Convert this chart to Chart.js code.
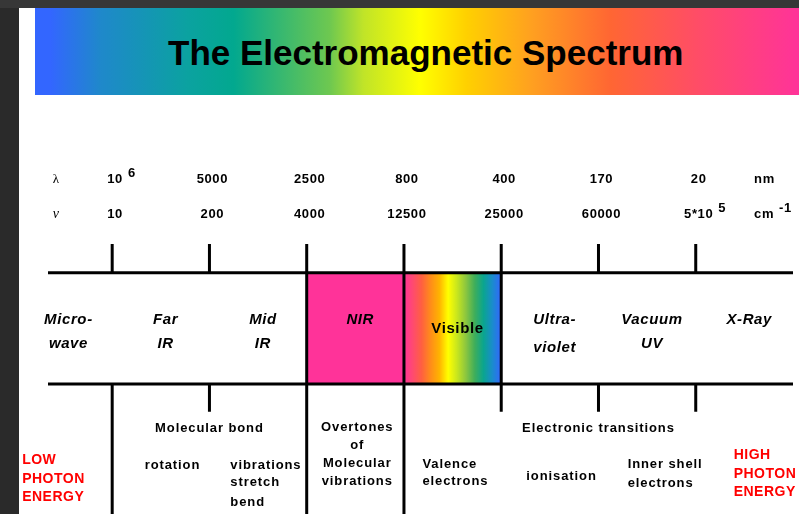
<!DOCTYPE html>
<html>
<head>
<meta charset="utf-8">
<script src="https://cdn.jsdelivr.net/npm/chart.js@4.4.0/dist/chart.umd.min.js"></script>
<style>
  html, body { margin: 0; padding: 0; }
  body { width: 799px; height: 514px; background: #2a2a2a; position: relative; overflow: hidden; }
  #topbar { position: absolute; left: 0; top: 0; width: 799px; height: 8px; background: #373737; }
  #sheet { position: absolute; left: 19px; top: 8px; width: 780px; height: 506px; background: #fff; }
  #sheet canvas { position: absolute; left: 0; top: 0; }
  #banner {
    position: absolute; left: 16px; top: 0; width: 764px; height: 87px;
    background: linear-gradient(to right, #3366ff 0%, #3366ff 2%, #1f88cb 8.5%, #0ba2a0 20%, #02a88f 26%,
      #6ec850 38.6%, #c0e428 43%, #ffff00 50.4%, #ffd000 56.5%, #ffa020 65%, #ff6633 75.3%,
      #ff4c68 87%, #ff3399 100%);
  }
  #banner h1 {
    position: absolute; left: 133px; top: 25px; margin: 0;
    font: bold 35px "Liberation Sans", Arial, sans-serif; line-height: 40px;
    color: #000; white-space: nowrap;
  }
</style>
</head>
<body>
<div id="topbar"></div>
<div id="sheet">
  <canvas id="spectrum" width="780" height="506"></canvas>
  <div id="banner"><h1>The Electromagnetic Spectrum</h1></div>
</div>
<script>
// --- Données du diagramme ---
const boundaries = [1, 2, 3, 4, 5, 6, 7];
const wavelengthLabels = ['10^6', '5000', '2500', '800', '400', '170', '20'];
const wavenumberLabels = ['10', '200', '4000', '12500', '25000', '60000', '5*10^5'];
const unitLabels = ['nm', 'cm^-1'];
const symbolLabels = ['λ', 'ν'];
const regionNames = [['Micro-', 'wave'], ['Far', 'IR'], ['Mid', 'IR'], ['NIR'], ['Visible'], ['Ultra-', 'violet'], ['Vacuum', 'UV'], ['X-Ray']];
const regionStart = [0, 1, 2, 3, 4, 5, 6, 7];
const highlightedRegions = ['NIR', 'Visible'];
const processSplits = [1, 3, 4];
const groupNames = ['Molecular bond', 'Electronic transitions'];
const groupTicks = [2, 6];
const processNames = [['rotation'], ['vibrations', 'stretch', 'bend'], ['Overtones', 'of', 'Molecular', 'vibrations'], ['Valence', 'electrons'], ['ionisation'], ['Inner shell', 'electrons']];
const energyNames = [['LOW', 'PHOTON', 'ENERGY'], ['HIGH', 'PHOTON', 'ENERGY']];

// --- Mise en page (unités des échelles) ---
const X_MIN = 0.34, X_MAX = 8, Y_MIN = -1.17, Y_MAX = 2.6;
const BAND_TOP = 1, BAND_BOTTOM = 0, TICK_UP = 1.26, TICK_DOWN = -0.25;
const ROW_LAMBDA = 1.856, ROW_NU = 1.541, LABEL_SHIFT = 0.03, SYMBOL_X = 0.42, UNIT_X = 7.6;
const TEXT_DY = 2; // décalage vertical du texte (px)
const regionLabelDx = 0.55;
const regionLabelY = [[0.595, 0.378], [0.595, 0.378], [0.595, 0.378], [0.595], [0.514], [0.595, 0.342], [0.595, 0.378], [0.595]];
const GROUP_Y = -0.385;
const processX = [1.62, 2.215, 3.52, 4.19, 5.62, 6.30];
const processAlign = ['center', 'left', 'center', 'left', 'center', 'left'];
const processY = [[-0.712], [-0.712, -0.866, -1.05], [-0.375, -0.532, -0.694, -0.858], [-0.709, -0.858], [-0.813], [-0.709, -0.88]];
const energyX = [0.074, 7.39];
const energyY = [[-0.669, -0.835, -1.0], [-0.625, -0.79, -0.955]];

const FONT = '"Liberation Sans", Arial, sans-serif';
const visibleStops = ['#ff3399', '#ff4a70', '#ff6040', '#ff8c1a', '#ffb300', '#ffff00', '#c8e61e', '#8cc63f', '#3fae5a', '#0aa58f', '#1a8ccc', '#3366ff'];

// segments verticaux : [x, y0, y1]
const segments = [];
boundaries.forEach(b => segments.push([b, BAND_TOP, TICK_UP]));
const boxEdges = [];
highlightedRegions.forEach(name => {
    const i = regionNames.findIndex(r => r.join('') === name);
    [regionStart[i], regionStart[i] + 1].forEach(e => { if (!boxEdges.includes(e)) boxEdges.push(e); });
});
boxEdges.forEach(b => segments.push([b, BAND_BOTTOM, BAND_TOP]));
processSplits.forEach(b => segments.push([b, Y_MIN, BAND_BOTTOM]));
boundaries.filter(b => !processSplits.includes(b)).forEach(b => segments.push([b, TICK_DOWN, BAND_BOTTOM]));

const segmentData = [];
segments.forEach(([x, y0, y1]) => {
    segmentData.push({ x: x, y: y0 }, { x: x, y: y1 }, { x: x, y: null });
});

function regionFill(name, color) {
    const i = regionNames.findIndex(r => r.join('') === name);
    return {
        data: [{ x: regionStart[i], y: BAND_TOP }, { x: regionStart[i] + 1, y: BAND_TOP }],
        fill: { value: BAND_BOTTOM },
        backgroundColor: color,
        borderColor: 'transparent',
        borderWidth: 0,
        order: 5
    };
}

function visibleGradient(context) {
    const chart = context.chart;
    if (!chart.chartArea) return '#ffff00';
    const i = regionNames.findIndex(r => r.join('') === 'Visible');
    const x0 = chart.scales.x.getPixelForValue(regionStart[i]);
    const x1 = chart.scales.x.getPixelForValue(regionStart[i] + 1);
    const g = chart.ctx.createLinearGradient(x0, 0, x1, 0);
    visibleStops.forEach((c, k) => g.addColorStop(k / (visibleStops.length - 1), c));
    return g;
}

function setFont(ctx, font, spacing) {
    ctx.font = font;
    if ('letterSpacing' in ctx) ctx.letterSpacing = spacing || '0px';
}

// texte avec exposant "base^exp"
function drawSup(ctx, text, x, y, align) {
    const [base, sup] = text.split('^');
    const w = ctx.measureText(base).width;
    const left = align === 'center' ? x - w / 2 : x;
    ctx.textAlign = 'left';
    ctx.fillText(base, left, y + TEXT_DY);
    if (sup) ctx.fillText(sup, left + w + 5, y + TEXT_DY - 6);
}

function drawLines(ctx, lines, x, ys, align) {
    ctx.textAlign = align;
    lines.forEach((t, k) => ctx.fillText(t, x, ys[k] + TEXT_DY));
}

const labelPlugin = {
    id: 'diagramLabels',
    afterDatasetsDraw(chart) {
        const { ctx, scales: { x, y } } = chart;
        ctx.save();
        ctx.fillStyle = '#000';
        ctx.textBaseline = 'middle';

        // longueurs d'onde et nombres d'onde
        setFont(ctx, 'bold 13px ' + FONT, '0.6px');
        boundaries.forEach((b, i) => {
            const px = x.getPixelForValue(b + LABEL_SHIFT);
            drawSup(ctx, wavelengthLabels[i], px, y.getPixelForValue(ROW_LAMBDA), 'center');
            drawSup(ctx, wavenumberLabels[i], px, y.getPixelForValue(ROW_NU), 'center');
        });
        drawSup(ctx, unitLabels[0], x.getPixelForValue(UNIT_X), y.getPixelForValue(ROW_LAMBDA), 'left');
        drawSup(ctx, unitLabels[1], x.getPixelForValue(UNIT_X), y.getPixelForValue(ROW_NU), 'left');

        setFont(ctx, '13px "Liberation Serif", serif');
        drawLines(ctx, [symbolLabels[0]], x.getPixelForValue(SYMBOL_X), [y.getPixelForValue(ROW_LAMBDA)], 'center');
        setFont(ctx, 'italic 14px "Liberation Serif", serif');
        drawLines(ctx, [symbolLabels[1]], x.getPixelForValue(SYMBOL_X), [y.getPixelForValue(ROW_NU)], 'center');

        // régions du spectre
        regionNames.forEach((lines, i) => {
            const plain = lines.join('') === 'Visible';
            setFont(ctx, (plain ? 'bold ' : 'italic bold ') + '15px ' + FONT, '0.6px');
            drawLines(ctx, lines, x.getPixelForValue(regionStart[i] + regionLabelDx),
                regionLabelY[i].map(v => y.getPixelForValue(v)), 'center');
        });

        // transitions
        setFont(ctx, 'bold 13px ' + FONT, '0.9px');
        groupNames.forEach((g, i) => {
            drawLines(ctx, [g], x.getPixelForValue(groupTicks[i]), [y.getPixelForValue(GROUP_Y)], 'center');
        });
        processNames.forEach((lines, i) => {
            drawLines(ctx, lines, x.getPixelForValue(processX[i]),
                processY[i].map(v => y.getPixelForValue(v)), processAlign[i]);
        });

        // énergie des photons
        ctx.fillStyle = '#ff0000';
        setFont(ctx, 'bold 14px ' + FONT, '0.5px');
        energyNames.forEach((lines, i) => {
            drawLines(ctx, lines, x.getPixelForValue(energyX[i]),
                energyY[i].map(v => y.getPixelForValue(v)), 'left');
        });
        ctx.restore();
    }
};

new Chart(document.getElementById('spectrum'), {
    type: 'line',
    data: {
        datasets: [
            {
                data: [{ x: X_MIN, y: BAND_TOP }, { x: X_MAX, y: BAND_TOP }],
                borderColor: '#000', borderWidth: 3, order: 0
            },
            {
                data: [{ x: X_MIN, y: BAND_BOTTOM }, { x: X_MAX, y: BAND_BOTTOM }],
                borderColor: '#000', borderWidth: 3, order: 0
            },
            {
                data: segmentData,
                borderColor: '#000', borderWidth: 3, spanGaps: false, order: 0
            },
            regionFill('NIR', '#ff3399'),
            regionFill('Visible', visibleGradient)
        ]
    },
    options: {
        responsive: false,
        animation: false,
        events: [],
        layout: { padding: { left: 29, right: 6, top: 87, bottom: 0 } },
        elements: {
            point: { radius: 0 },
            line: { tension: 0, fill: false, borderCapStyle: 'butt' }
        },
        scales: {
            x: { type: 'linear', min: X_MIN, max: X_MAX, display: false },
            y: { type: 'linear', min: Y_MIN, max: Y_MAX, display: false }
        },
        plugins: {
            legend: { display: false },
            tooltip: { enabled: false },
            title: { display: false }
        }
    },
    plugins: [labelPlugin]
});
</script>
</body>
</html>
